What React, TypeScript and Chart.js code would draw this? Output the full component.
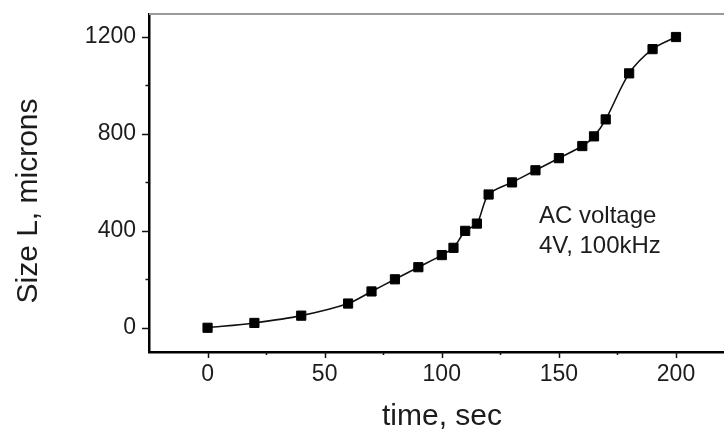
import React, { useEffect, useRef } from "react";
import { Chart, registerables } from "chart.js";

Chart.register(...registerables);

const times = [0, 20, 40, 60, 70, 80, 90, 100, 105, 110, 115, 120, 130, 140, 150, 160, 165, 170, 180, 190, 200];
const sizes = [0, 20, 50, 100, 150, 200, 250, 300, 330, 400, 430, 550, 600, 650, 700, 750, 790, 860, 1050, 1150, 1200];
const xTicks = [0, 50, 100, 150, 200];
const xMinorTicks = [25, 75, 125, 175];
const yTicks = [0, 400, 800, 1200];
const yMinorTicks = [200, 600, 1000];
const xTitle = "time, sec";
const yTitle = "Size L, microns";
const noteLines = ["AC voltage", "4V, 100kHz"];

const FONT = "'Liberation Sans', Arial, sans-serif";
const TEXT = "#1c1c1c";

const decor = {
  id: "decor",
  afterDraw(chart: any) {
    const { ctx, chartArea } = chart;
    const xs = chart.scales.x;
    const ys = chart.scales.y;
    ctx.save();
    // top frame line
    ctx.strokeStyle = "#9a9a9a";
    ctx.lineWidth = 2;
    ctx.beginPath();
    ctx.moveTo(chartArea.left, chartArea.top);
    ctx.lineTo(chart.width, chartArea.top);
    ctx.stroke();
    // tick marks
    ctx.strokeStyle = "#111";
    ctx.lineWidth = 1.5;
    const bottom = chartArea.bottom;
    const left = chartArea.left;
    ctx.beginPath();
    xTicks.forEach((v) => {
      const p = Math.round(xs.getPixelForValue(v)) + 0.5;
      ctx.moveTo(p, bottom);
      ctx.lineTo(p, bottom + 6);
    });
    xMinorTicks.forEach((v) => {
      const p = Math.round(xs.getPixelForValue(v)) + 0.5;
      ctx.moveTo(p, bottom);
      ctx.lineTo(p, bottom + 3);
    });
    yTicks.forEach((v) => {
      const p = Math.round(ys.getPixelForValue(v)) + 0.5;
      ctx.moveTo(left, p);
      ctx.lineTo(left - 7, p);
    });
    yMinorTicks.forEach((v) => {
      const p = Math.round(ys.getPixelForValue(v)) + 0.5;
      ctx.moveTo(left, p);
      ctx.lineTo(left - 3.5, p);
    });
    ctx.stroke();
    // titles
    ctx.fillStyle = TEXT;
    ctx.font = `30px ${FONT}`;
    ctx.textAlign = "center";
    ctx.textBaseline = "alphabetic";
    ctx.fillText(xTitle, 442, 425);
    ctx.save();
    ctx.translate(37, 201);
    ctx.rotate(-Math.PI / 2);
    ctx.fillText(yTitle, 0, 0);
    ctx.restore();
    // annotation
    ctx.font = `24px ${FONT}`;
    ctx.textAlign = "left";
    ctx.fillText(noteLines[0], 539, 223);
    ctx.fillText(noteLines[1], 539, 253);
    ctx.restore();
  },
};

const zeroPad = (s: any) => {
  s.paddingTop = 0;
  s.paddingBottom = 0;
  s.paddingLeft = 0;
  s.paddingRight = 0;
};

export default function App() {
  const ref = useRef<HTMLCanvasElement | null>(null);
  useEffect(() => {
    if (!ref.current) return;
    const chart = new Chart(ref.current, {
      type: "line",
      data: {
        datasets: [
          {
            data: times.map((t, i) => ({ x: t, y: sizes[i] })),
            borderColor: "#111",
            borderWidth: 1.6,
            backgroundColor: "#000",
            pointStyle: "rect",
            pointRadius: 6.5,
            pointBorderWidth: 1,
            pointBorderColor: "#000",
            pointBackgroundColor: "#000",
            tension: 0.3,
            fill: false,
          },
        ],
      },
      options: {
        responsive: false,
        animation: false,
        layout: { autoPadding: false, padding: { left: 0, top: 14, right: 0, bottom: 0 } },
        plugins: { legend: { display: false }, tooltip: { enabled: false } },
        scales: {
          x: {
            type: "linear",
            min: -25,
            max: 220.5,
            grid: { display: false, drawTicks: false },
            border: { display: true, color: "#000", width: 2.5 },
            afterBuildTicks: (s: any) => {
              s.ticks = xTicks.map((v) => ({ value: v }));
            },
            afterFit: (s: any) => {
              s.height = 77;
              zeroPad(s);
            },
            ticks: {
              padding: 9,
              color: TEXT,
              font: { family: FONT, size: 23 },
              maxRotation: 0,
              autoSkip: false,
              callback: (v: any) => String(v),
            },
          },
          y: {
            type: "linear",
            min: -100,
            max: 1295,
            grid: { display: false, drawTicks: false },
            border: { display: true, color: "#000", width: 2.5 },
            afterBuildTicks: (s: any) => {
              s.ticks = yTicks.map((v) => ({ value: v }));
            },
            afterFit: (s: any) => {
              s.width = 149;
              zeroPad(s);
            },
            ticks: {
              padding: 13,
              color: TEXT,
              font: { family: FONT, size: 23 },
              autoSkip: false,
              callback: (v: any) => String(v),
            },
          },
        },
      },
      plugins: [decor],
    });
    return () => chart.destroy();
  }, []);
  return (
    <div style={{ position: "fixed", left: 0, top: 0, width: 724, height: 429, background: "#fff" }}>
      <canvas ref={ref} width={724} height={429} style={{ display: "block" }} />
    </div>
  );
}
